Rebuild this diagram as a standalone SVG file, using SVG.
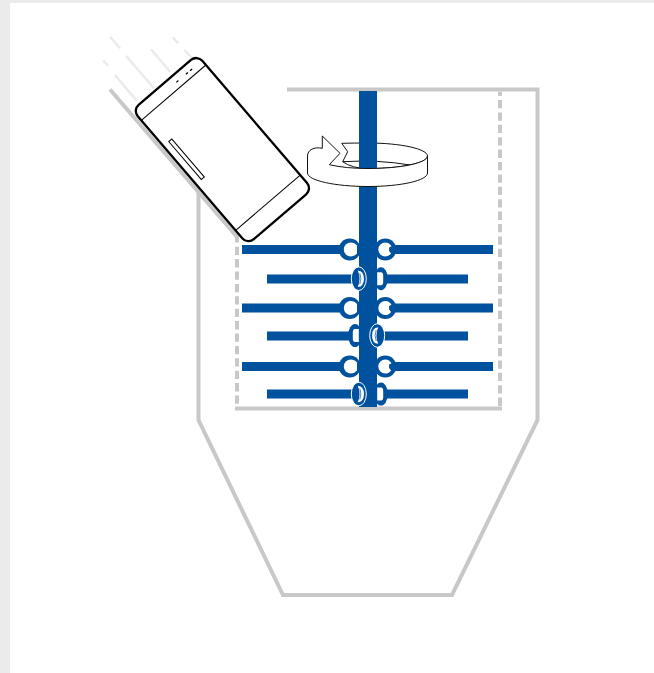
<svg xmlns="http://www.w3.org/2000/svg" width="654" height="673" viewBox="0 0 654 673">
<style>
.wall{fill:none;stroke:#c8c8c8;stroke-width:4}
.dash{fill:none;stroke:#c8c8c8;stroke-width:4;stroke-dasharray:8.300 4.100}
.motion{fill:none;stroke:#ebebeb;stroke-width:2.500}
.blue{fill:#00519e}
.ring{fill:#fff;stroke:#111;stroke-width:1;stroke-linejoin:miter}
.ph{fill:none;stroke:#000}
</style>
<defs>
<g id="big-l">
<circle cx="0" cy="0" r="11" fill="#00519e"/>
<path fill="#fff" d="M1,-6.900A6.900,6.900 0 1 0 1,6.900Q5,6.900 7.300,4V-4Q5,-6.900 1,-6.900Z"/>
</g>
<g id="big-r">
<circle cx="0" cy="0" r="11" fill="#00519e"/>
<path fill="#fff" d="M0,-7A7,7 0 0 0 0,7A7,7 0 0 0 5.800,3.900L3.800,1.500V-2L6.200,-3.200A7,7 0 0 0 0,-7Z"/>
</g>
<g id="front">
<ellipse cx="0" cy="0" rx="7.500" ry="11.800" fill="#00519e" stroke="#fff" stroke-width="1"/>
<path d="M-1,-8.300Q5,-8 5.200,0Q5,8 -1,8.300Q2.500,0 -1,-8.300Z" fill="#fff"/>
<path d="M1,-5.500Q3.200,0 1,5.500" fill="none" stroke="#00519e" stroke-width="0.700"/>
</g>
<g id="back">
<ellipse cx="0" cy="0" rx="6.800" ry="11.500" fill="#00519e"/>
<path d="M0,-6.500H3.800V6.500H0Q-2,6.500 -2.200,3.500V-3.500Q-2,-6.500 0,-6.500Z" fill="#fff"/>
</g>
</defs>
<rect width="654" height="673" fill="#ebebeb"/>
<rect x="10" y="3" width="644" height="670" fill="#fff"/>
<g id="tank">
<path class="wall" d="M198.500,190V420L283,595H452L537.500,420V89.500H287"/>
<path class="wall" d="M235,408.500H502"/>
<path class="dash" d="M237,234.300V406.500"/>
<path class="dash" d="M500,91.700V406.500" stroke-dashoffset="4.100"/>
<path class="wall" d="M110,89.500L238,238"/>
</g>
<g id="ring-back">
<path class="ring" d="M341.700,143.300Q354,143 368,143C401,143 427.500,149 427.500,156C427.500,163 401,168.500 368,168.500Q352,168.500 342.700,161.700L347.700,151.700Z"/>
<path class="ring" fill="none" style="fill:none" d="M342.700,161.700Q378,159.500 410,165"/>
</g>
<g id="motion-lines">
<path class="motion" d="M110,36.700L120,48.300M126,55.700L154,88.300M151,49.300L170,71.700M172.700,37.300L178.300,43.300M184.300,50L193,59M103.300,60.700L108.300,66M115,75L136.700,100.700"/>
</g>
<g id="paddles">
<rect class="blue" x="359" y="91" width="18" height="316"/>
<rect class="blue" x="242" y="245" width="251" height="9"/>
<rect class="blue" x="267" y="274.500" width="201" height="9"/>
<rect class="blue" x="242" y="303.500" width="251" height="9"/>
<rect class="blue" x="267" y="331.500" width="201" height="9"/>
<rect class="blue" x="242" y="362" width="251" height="9"/>
<rect class="blue" x="267" y="389.500" width="201" height="9"/>
<use href="#big-l" x="349.700" y="249.500"/>
<use href="#big-r" x="385.300" y="249.500"/>
<use href="#big-l" x="349.700" y="308"/>
<use href="#big-r" x="385.300" y="308"/>
<use href="#big-l" x="349.700" y="366.500"/>
<use href="#big-r" x="385.300" y="366.500"/>
<use href="#front" x="358.800" y="278.700"/>
<use href="#back" transform="translate(381,278.700) scale(-1,1)"/>
<use href="#back" x="355" y="335.500"/>
<use href="#front" transform="translate(377.200,335.500) scale(-1,1)"/>
<use href="#front" x="358.800" y="394"/>
<use href="#back" transform="translate(381,394) scale(-1,1)"/>
</g>
<g id="ring-front">
<path class="ring" d="M307.500,156C307.500,150 314,146.500 322.300,148.300V136L340,153.300L329.300,164.700Q346,168.500 368,168.500C401,168.500 427.500,163 427.500,156V173C427.500,180.500 401,186.500 368,186.500C335,186.500 307.500,180.500 307.500,173Z"/>
</g>
<g id="phone" transform="translate(222.400,149.600) rotate(49.400)">
<rect x="-88.500" y="-42.500" width="177" height="85" rx="8" fill="#fff" stroke="#000" stroke-width="2.300"/>
<path class="ph" stroke-width="1" d="M-75,-42.500V42.500M70,-42.500V42.500"/>
<rect x="-41" y="31.500" width="50" height="4" fill="#fff" stroke="#000" stroke-width="1"/>
<path class="ph" stroke-width="1.300" d="M-81,-29.500V-26.800M-81,-24V-21.300M-81,-11.500V-8.800"/>
</g>
</svg>
